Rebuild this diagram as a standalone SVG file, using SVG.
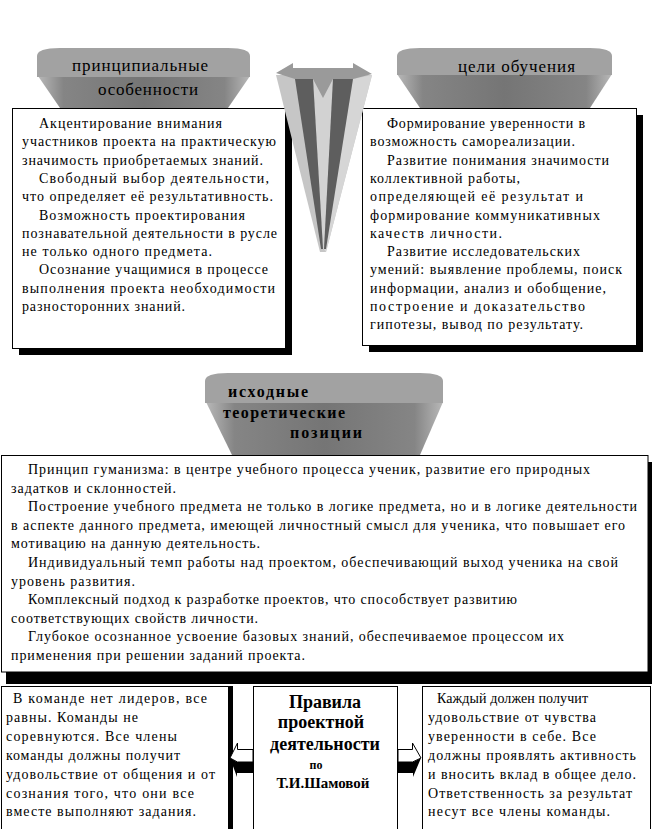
<svg xmlns="http://www.w3.org/2000/svg" width="652" height="829" viewBox="0 0 652 829">
<defs>
<style>
.t{font-family:"Liberation Serif","Times New Roman",serif;font-size:14px;fill:#000}
.h{font-family:"Liberation Serif","Times New Roman",serif;font-size:17px;fill:#000}
.hb{font-family:"Liberation Serif","Times New Roman",serif;font-size:16px;font-weight:bold;fill:#000}
.cb{font-family:"Liberation Serif","Times New Roman",serif;font-weight:bold;fill:#000;text-anchor:middle}
.box{fill:#fff;stroke:#000;stroke-width:1}
.sh{fill:#000}
.band{fill:#a2a2a2}
.cone{fill:url(#fg)}
</style>
<linearGradient id="fg" x1="0" y1="0" x2="1" y2="0">
<stop offset="0" stop-color="#b8b8b8"/>
<stop offset="0.12" stop-color="#858585"/>
<stop offset="0.5" stop-color="#757575"/>
<stop offset="0.88" stop-color="#858585"/>
<stop offset="1" stop-color="#b8b8b8"/>
</linearGradient>
</defs>
<rect width="652" height="829" fill="#fff"/>

<g id="features">
<path class="cone" d="M38,76 L250,76 L228,108 L60,108 Z"/>
<path class="band" d="M37,77 L37,56 Q37,48 60,48 L228,48 Q250,48 250,56 L250,77 Z"/>
<text class="h" x="72" y="71" textLength="136">принципиальные</text>
<text class="h" x="98" y="95" textLength="100">особенности</text>
<rect class="sh" x="19" y="115" width="273" height="240"/>
<rect class="box" x="12.5" y="108.5" width="273" height="240"/>
<text class="t" x="39" y="128" textLength="183">Акцентирование внимания</text>
<text class="t" x="22" y="146.3" textLength="254">участников проекта на практическую</text>
<text class="t" x="22" y="164.6" textLength="241">значимость приобретаемых знаний.</text>
<text class="t" x="39" y="182.9" textLength="230">Свободный выбор   деятельности,</text>
<text class="t" x="22" y="201.2" textLength="251">что определяет её результативность.</text>
<text class="t" x="39" y="219.5" textLength="206">Возможность проектирования</text>
<text class="t" x="22" y="237.8" textLength="255">познавательной деятельности в русле</text>
<text class="t" x="22" y="256.1" textLength="190">не только одного предмета.</text>
<text class="t" x="39" y="274.4" textLength="229">Осознание учащимися в процессе</text>
<text class="t" x="22" y="292.7" textLength="253">выполнения проекта  необходимости</text>
<text class="t" x="22" y="311" textLength="163">разносторонних знаний.</text>
</g>

<g id="goals">
<path class="cone" d="M397,74 L612,74 L590,108 L420,108 Z"/>
<path class="band" d="M397,75 L397,56 Q397,48 420,48 L590,48 Q612,48 612,56 L612,75 Z"/>
<text class="h" x="458" y="72" textLength="117">цели обучения</text>
<rect class="sh" x="369" y="115" width="274" height="237"/>
<rect class="box" x="362.5" y="108.5" width="274" height="237"/>
<text class="t" x="387" y="128" textLength="198">Формирование уверенности в</text>
<text class="t" x="370" y="146.3" textLength="205">возможность самореализации.</text>
<text class="t" x="387" y="164.6" textLength="222">Развитие понимания значимости</text>
<text class="t" x="370" y="182.9" textLength="150">коллективной работы,</text>
<text class="t" x="370" y="201.2" textLength="213">определяющей её результат и</text>
<text class="t" x="370" y="219.5" textLength="230">формирование коммуникативных</text>
<text class="t" x="370" y="237.8" textLength="132">качеств личности.</text>
<text class="t" x="387" y="256.1" textLength="193">Развитие исследовательских</text>
<text class="t" x="370" y="274.4" textLength="252">умений: выявление проблемы, поиск</text>
<text class="t" x="370" y="292.7" textLength="236">информации, анализ и обобщение,</text>
<text class="t" x="370" y="311" textLength="215">построение и доказательство</text>
<text class="t" x="370" y="329.3" textLength="213">гипотезы, вывод по результату.</text>
</g>

<g id="positions">
<path class="cone" d="M206,402 L443,402 L420,455 L232,455 Z"/>
<path class="band" d="M205,403 L205,381 Q205,373 228,373 L420,373 Q443,373 443,381 L443,403 Z"/>
<text class="hb" x="228" y="397" textLength="80">исходные</text>
<text class="hb" x="223" y="418" textLength="122">теоретические</text>
<text class="hb" x="290" y="438" textLength="72">позиции</text>
<rect class="sh" x="6" y="462" width="646" height="222"/>
<rect class="box" x="1.5" y="455.5" width="646.5" height="216.5"/>
<text class="t" x="28" y="474" textLength="562">Принцип гуманизма: в центре учебного процесса ученик, развитие его природных</text>
<text class="t" x="11" y="492.6" textLength="165">задатков и склонностей.</text>
<text class="t" x="28" y="511.2" textLength="609">Построение учебного предмета не только в логике  предмета, но и в логике деятельности</text>
<text class="t" x="11" y="529.8" textLength="614">в аспекте данного предмета, имеющей личностный смысл для ученика, что повышает его</text>
<text class="t" x="11" y="548.4" textLength="249">мотивацию на данную деятельность.</text>
<text class="t" x="28" y="567" textLength="590">Индивидуальный темп работы над проектом, обеспечивающий выход ученика на свой</text>
<text class="t" x="11" y="585.6" textLength="124">уровень развития.</text>
<text class="t" x="28" y="604.2" textLength="489">Комплексный подход к разработке проектов, что способствует развитию</text>
<text class="t" x="11" y="622.8" textLength="247">соответствующих свойств личности.</text>
<text class="t" x="28" y="641.4" textLength="536">Глубокое осознанное усвоение базовых знаний, обеспечиваемое процессом их</text>
<text class="t" x="11" y="660" textLength="294">применения при решении заданий проекта.</text>
</g>

<g id="team">
<rect class="sh" x="229" y="686" width="4" height="150"/>
<rect class="box" x="1.5" y="686.5" width="227" height="150"/>
<text class="t" x="13" y="703" textLength="194">В команде нет лидеров, все</text>
<text class="t" x="6" y="722" textLength="132">равны. Команды не</text>
<text class="t" x="6" y="741" textLength="171">соревнуются. Все члены</text>
<text class="t" x="6" y="760" textLength="174">команды должны получит</text>
<text class="t" x="6" y="779" textLength="209">удовольствие от общения и от</text>
<text class="t" x="6" y="798" textLength="188">сознания того, что они все</text>
<text class="t" x="6" y="816" textLength="190">вместе выполняют задания.</text>
</g>

<g id="rules">
<rect class="box" x="253.5" y="686.5" width="144" height="150"/>
<text class="cb" x="325" y="708" font-size="18">Правила</text>
<text class="cb" x="321" y="728" font-size="18">проектной</text>
<text class="cb" x="325" y="750" font-size="18">деятельности</text>
<text class="cb" x="316" y="769" font-size="12">по</text>
<text class="cb" x="323" y="788" font-size="15">Т.И.Шамовой</text>
</g>

<g id="individual">
<rect class="box" x="422.5" y="686.5" width="228" height="150"/>
<text class="t" x="437" y="703" textLength="151">Каждый должен получит</text>
<text class="t" x="428" y="722" textLength="168">удовольствие от чувства</text>
<text class="t" x="428" y="741" textLength="168">уверенности в себе. Все</text>
<text class="t" x="428" y="760" textLength="208">должны проявлять активность</text>
<text class="t" x="428" y="779" textLength="208">и вносить вклад в общее дело.</text>
<text class="t" x="428" y="798" textLength="204">Ответственность за результат</text>
<text class="t" x="428" y="816" textLength="182">несут все члены команды.</text>
</g>

<g id="connectors">
<g id="center-arrow">
<polygon points="276,75 372,75 326,252 320,252" fill="#c6c6c6"/>
<polygon points="353,79 372,75 326,252 324,249" fill="#d6d6d6"/>
<polygon points="313,79 333,79 324,249 323,249" fill="#d2d2d2"/>
<polygon points="295,79 313,79 323,249 321,249" fill="#5e5e5e"/>
<polygon points="333,79 353,79 326,249 324,249" fill="#5e5e5e"/>
<polygon points="276,73 293,63 293,68 353,68 353,63 372,74 353,79 333,79 323,98 313,79 295,79" fill="#9a9a9a"/>
</g>
<g id="arrow-left">
<polygon points="253,762 237,762 230,758 237,777 237,773 253,773" fill="#000"/>
<polygon points="253,749.5 237.5,749.5 237.5,743 230,758 237.5,762 253,762" fill="#fff" stroke="#000" stroke-width="1"/>
</g>
<g id="arrow-right">
<polygon points="398,762 413,762 421,758 413,777 413,773 398,773" fill="#000"/>
<polygon points="398,749.5 412.5,749.5 412.5,743 421,758 412.5,762 398,762" fill="#fff" stroke="#000" stroke-width="1"/>
</g>
</g>
</svg>
